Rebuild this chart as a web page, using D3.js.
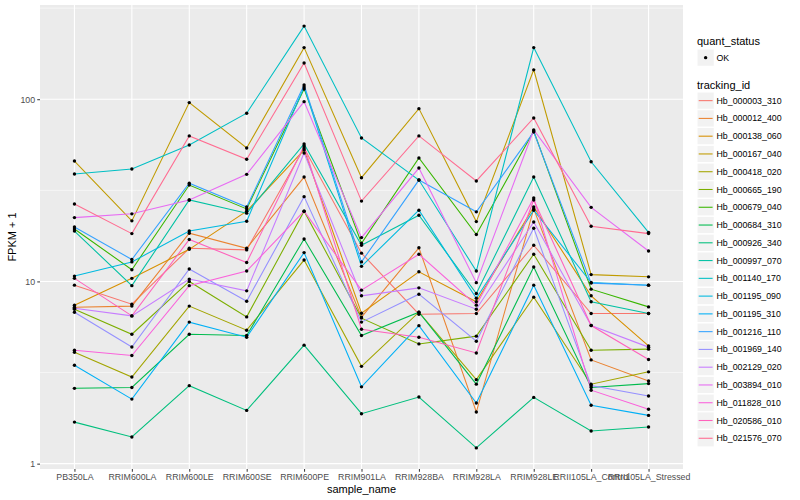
<!DOCTYPE html>
<html><head><meta charset="utf-8">
<script src="https://cdn.jsdelivr.net/npm/d3@7"></script>
<style>body{margin:0;background:#fff} text{font-family:"Liberation Sans",Arial,Helvetica,sans-serif}</style>
</head><body><svg id="c" width="800" height="500"></svg>
<script>
const samples = ["PB350LA","RRIM600LA","RRIM600LE","RRIM600SE","RRIM600PE","RRIM901LA","RRIM928BA","RRIM928LA","RRIM928LE","RRII105LA_Control","RRII105LA_Stressed"];
const trackingIds = ["Hb_000003_310","Hb_000012_400","Hb_000138_060","Hb_000167_040","Hb_000418_020","Hb_000665_190","Hb_000679_040","Hb_000684_310","Hb_000926_340","Hb_000997_070","Hb_001140_170","Hb_001195_090","Hb_001195_310","Hb_001216_110","Hb_001969_140","Hb_002129_020","Hb_003894_010","Hb_011828_010","Hb_020586_010","Hb_021576_070"];
const quantStatus = ["OK"];
const yTicks = [1, 10, 100];

// FPKM + 1 per sample, one array per tracking_id
const Hb_000003_310 = [9.54, 7.50, 15.2, 14.9, 54.0, 14.3, 6.61, 6.67, 15.8, 6.67, 6.67];
const Hb_000012_400 = [7.22, 7.32, 18.4, 15.2, 37.4, 6.37, 15.3, 1.92, 25.0, 3.71, 2.84];
const Hb_000138_060 = [7.41, 10.4, 15.0, 24.3, 52.7, 6.69, 11.3, 7.73, 25.6, 8.34, 4.43];
const Hb_000167_040 = [45.8, 21.5, 95.8, 54.0, 192, 37.1, 88.8, 21.3, 145, 10.9, 10.6];
const Hb_000418_020 = [4.09, 2.99, 7.32, 5.40, 13.1, 3.42, 6.78, 2.89, 8.20, 2.73, 3.19];
const Hb_000665_190 = [7.04, 5.13, 10.0, 6.39, 24.3, 6.29, 4.54, 5.01, 14.1, 4.19, 4.25];
const Hb_000679_040 = [19.4, 11.6, 33.8, 25.0, 113.9, 16.2, 47.6, 18.1, 66.9, 9.07, 7.25];
const Hb_000684_310 = [2.59, 2.62, 5.13, 5.05, 17.1, 5.05, 6.78, 2.73, 12.0, 2.62, 2.75];
const Hb_000926_340 = [1.69, 1.40, 2.68, 1.96, 4.47, 1.88, 2.32, 1.22, 2.31, 1.51, 1.59];
const Hb_000997_070 = [18.9, 9.48, 28.0, 23.7, 56.8, 15.8, 23.1, 8.59, 37.4, 7.73, 6.67];
const Hb_001140_170 = [38.9, 41.4, 56.1, 83.8, 252, 61.3, 36.0, 11.4, 192, 45.4, 18.6];
const Hb_001195_090 = [10.7, 12.8, 18.9, 21.4, 116.8, 12.1, 24.6, 8.09, 24.6, 9.87, 9.54];
const Hb_001195_310 = [3.47, 2.26, 5.98, 4.94, 14.4, 2.64, 5.72, 2.15, 9.54, 2.09, 1.84];
const Hb_001216_110 = [19.9, 13.2, 34.6, 25.6, 119.8, 12.8, 36.0, 24.1, 66.1, 9.79, 9.54];
const Hb_001969_140 = [6.78, 4.37, 11.7, 7.79, 29.2, 5.98, 8.51, 4.70, 19.6, 2.68, 2.35];
const Hb_002129_020 = [7.13, 6.47, 10.3, 8.88, 50.7, 8.34, 9.22, 7.04, 21.2, 5.73, 4.36];
const Hb_003894_010 = [22.4, 23.5, 28.0, 38.7, 97.0, 17.4, 41.9, 9.85, 67.8, 25.5, 14.7];
const Hb_011828_010 = [4.19, 3.92, 9.48, 11.4, 24.3, 8.96, 14.1, 7.41, 28.7, 2.53, 1.99];
const Hb_020586_010 = [10.4, 6.47, 17.0, 12.7, 55.4, 5.47, 4.94, 4.05, 28.0, 5.73, 3.73];
const Hb_021576_070 = [26.6, 18.3, 62.9, 46.8, 158, 27.6, 62.9, 35.6, 78.9, 20.1, 18.3];

const seriesValues = [Hb_000003_310, Hb_000012_400, Hb_000138_060, Hb_000167_040, Hb_000418_020,
  Hb_000665_190, Hb_000679_040, Hb_000684_310, Hb_000926_340, Hb_000997_070, Hb_001140_170,
  Hb_001195_090, Hb_001195_310, Hb_001216_110, Hb_001969_140, Hb_002129_020, Hb_003894_010,
  Hb_011828_010, Hb_020586_010, Hb_021576_070];
const series = trackingIds.map((id, i) => ({id, values: seriesValues[i]}));

const palette = ["#F8766D","#EA8331","#D89000","#C09B00","#A3A500","#7CAE00","#39B600","#00BB4E","#00BF7D","#00C1A3",
  "#00BFC4","#00BAE0","#00B0F6","#35A2FF","#9590FF","#C77CFF","#E76BF3","#FA62DB","#FF62BC","#FF6C91"];
const color = d3.scaleOrdinal().domain(trackingIds).range(palette);

const svg = d3.select('#c');
const P = {l: 40, r: 683, t: 5, b: 469};

const x = d3.scalePoint().domain(samples).range([P.l, P.r]).padding(0.6);
const all = seriesValues.flat();
const lo = Math.log10(d3.min(all)), hi = Math.log10(d3.max(all));
const pad = (hi - lo) * 0.05;
const y = d3.scaleLog().domain([Math.pow(10, lo - pad), Math.pow(10, hi + pad)]).range([P.b, P.t]);

// panel
svg.append('rect').attr('x', P.l).attr('y', P.t).attr('width', P.r - P.l).attr('height', P.b - P.t).attr('fill', '#EBEBEB');
const grid = svg.append('g');
const minor = [Math.pow(10, 0.5), Math.pow(10, 1.5), Math.pow(10, 2.5)].filter(v => y(v) > P.t && y(v) < P.b);
grid.selectAll('.mn').data(minor).join('line').attr('x1', P.l).attr('x2', P.r)
  .attr('y1', d => y(d)).attr('y2', d => y(d)).attr('stroke', '#fff').attr('stroke-width', 0.55);
grid.selectAll('.mj').data(yTicks).join('line').attr('x1', P.l).attr('x2', P.r)
  .attr('y1', d => y(d)).attr('y2', d => y(d)).attr('stroke', '#fff').attr('stroke-width', 1.1);
grid.selectAll('.vx').data(samples).join('line').attr('y1', P.t).attr('y2', P.b)
  .attr('x1', d => x(d)).attr('x2', d => x(d)).attr('stroke', '#fff').attr('stroke-width', 1.1);

// lines
const line = d3.line().x((d, i) => x(samples[i])).y(d => y(d));
svg.append('g').selectAll('path').data(series).join('path')
  .attr('d', d => line(d.values)).attr('fill', 'none')
  .attr('stroke', d => color(d.id)).attr('stroke-width', 1.07);

// points
const pts = series.flatMap(s => s.values.map((v, i) => ({s: samples[i], v})));
svg.append('g').selectAll('circle').data(pts).join('circle')
  .attr('cx', d => x(d.s)).attr('cy', d => y(d.v)).attr('r', 1.7).attr('fill', '#000');

// axes
const ax = svg.append('g').attr('transform', `translate(0,${P.b})`)
  .call(d3.axisBottom(x).tickSize(2.75).tickPadding(2.2));
ax.select('.domain').remove();
ax.selectAll('line').attr('stroke', '#333');
ax.selectAll('text').attr('fill', '#4D4D4D').attr('font-size', 8.8).attr('dy', '0.71em');

const ay = svg.append('g').attr('transform', `translate(${P.l},0)`)
  .call(d3.axisLeft(y).tickValues(yTicks).tickFormat(d3.format('d')).tickSize(2.75).tickPadding(2.2));
ay.select('.domain').remove();
ay.selectAll('line').attr('stroke', '#333');
ay.selectAll('text').attr('fill', '#4D4D4D').attr('font-size', 8.8);

svg.append('text').attr('x', (P.l + P.r) / 2).attr('y', 493).attr('text-anchor', 'middle')
  .attr('font-size', 11).attr('fill', '#000').text('sample_name');
svg.append('text').attr('transform', `translate(16,${(P.t + P.b) / 2}) rotate(-90)`).attr('text-anchor', 'middle')
  .attr('font-size', 11).attr('fill', '#000').text('FPKM + 1');

// legend
const L = svg.append('g');
L.append('text').attr('x', 697).attr('y', 44.5).attr('font-size', 11).text('quant_status');
const qk = L.selectAll('.qk').data(quantStatus).join('g').attr('transform', (d, i) => `translate(697,${49 + i * 17.28})`);
qk.append('rect').attr('width', 17.28).attr('height', 17.28).attr('fill', '#F2F2F2').attr('stroke', '#fff');
qk.append('circle').attr('cx', 8.64).attr('cy', 8.64).attr('r', 1.7).attr('fill', '#000');
qk.append('text').attr('x', 19.5).attr('y', 8.64).attr('dy', '0.35em').attr('font-size', 8.8).text(d => d);

L.append('text').attr('x', 697).attr('y', 89).attr('font-size', 11).text('tracking_id');
const items = L.selectAll('.it').data(trackingIds).join('g')
  .attr('transform', (d, i) => `translate(697,${92 + i * 17.77})`);
items.append('rect').attr('width', 17.28).attr('height', 17.28).attr('fill', '#F2F2F2').attr('stroke', '#fff');
items.append('line').attr('x1', 1.7).attr('x2', 15.6).attr('y1', 8.64).attr('y2', 8.64)
  .attr('stroke', d => color(d)).attr('stroke-width', 1.07);
items.append('text').attr('x', 19.5).attr('y', 8.64).attr('dy', '0.35em').attr('font-size', 8.8).text(d => d);
</script></body></html>
